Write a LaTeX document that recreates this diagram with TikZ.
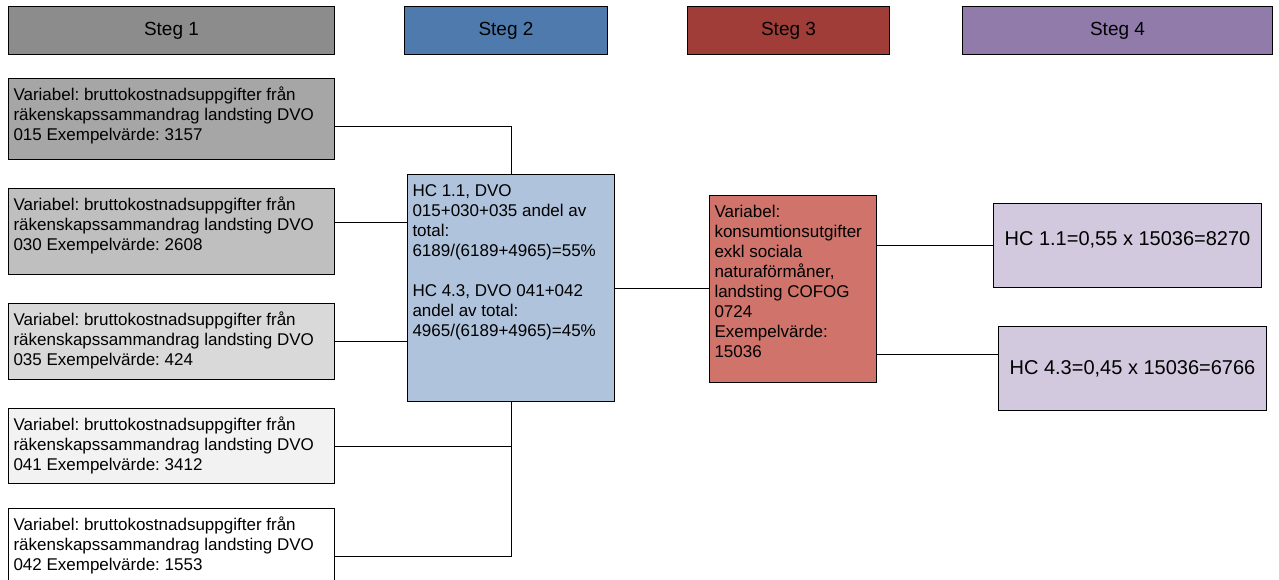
\documentclass[tikz,border=0pt]{standalone}
\usepackage{fontspec}
\setmainfont{Liberation Sans}
\frenchspacing

\definecolor{headA}{HTML}{8C8C8C}
\definecolor{headB}{HTML}{4E7AAE}
\definecolor{headC}{HTML}{A03D38}
\definecolor{headD}{HTML}{917BAA}
\definecolor{grayA}{HTML}{A6A6A6}
\definecolor{grayB}{HTML}{BFBFBF}
\definecolor{grayC}{HTML}{D9D9D9}
\definecolor{grayD}{HTML}{F2F2F2}
\definecolor{calcfill}{HTML}{B0C3DC}
\definecolor{redfill}{HTML}{CF736B}
\definecolor{hcfill}{HTML}{D3C9DF}

\tikzset{
	head/.style={draw, line width=1pt, anchor=north west, minimum height=48pt, inner sep=0pt, font=\fontsize{19}{23}\selectfont},
	cell/.style={draw, line width=1pt, anchor=north west, inner xsep=5pt, inner ysep=0pt, font=\fontsize{17}{20}\selectfont},
	link/.style={line width=0.8pt}
}
\newcommand{\celltxt}[3]{\parbox[c][#2][t]{#1}{\raggedright\frenchspacing\rule{0pt}{22pt}#3}}

\begin{document}
\begin{tikzpicture}[x=1pt,y=-1pt]
	\useasboundingbox (0,0) rectangle (1279,579);

	% Headers
	\node[head, fill=headA, minimum width=326pt] (h1) at (8,6) {Steg 1};
	\node[head, fill=headB, minimum width=203pt] (h2) at (404,6) {Steg 2};
	\node[head, fill=headC, minimum width=202pt] (h3) at (687,6) {Steg 3};
	\node[head, fill=headD, minimum width=310pt] (h4) at (962,6) {Steg 4};

	% Step 1: source variables
	\node[cell, fill=grayA] (v1) at (8,78) {\celltxt{316pt}{81pt}{Variabel: bruttokostnadsuppgifter från\\räkenskapssammandrag landsting DVO\\015 Exempelvärde: 3157}};
	\node[cell, fill=grayB] (v2) at (8,188) {\celltxt{316pt}{86pt}{Variabel: bruttokostnadsuppgifter från\\räkenskapssammandrag landsting DVO\\030 Exempelvärde: 2608}};
	\node[cell, fill=grayC] (v3) at (8,303) {\celltxt{316pt}{76pt}{Variabel: bruttokostnadsuppgifter från\\räkenskapssammandrag landsting DVO\\035 Exempelvärde: 424}};
	\node[cell, fill=grayD] (v4) at (8,408) {\celltxt{316pt}{75pt}{Variabel: bruttokostnadsuppgifter från\\räkenskapssammandrag landsting DVO\\041 Exempelvärde: 3412}};
	\node[cell, fill=white] (v5) at (8,508) {\celltxt{316pt}{96pt}{Variabel: bruttokostnadsuppgifter från\\räkenskapssammandrag landsting DVO\\042 Exempelvärde: 1553}};

	% Step 2: shares
	\node[cell, fill=calcfill] (calc) at (407,174) {\celltxt{197pt}{227pt}{HC 1.1, DVO\\015+030+035 andel av\\total:\\6189/(6189+4965)=55\%\\[20pt]HC 4.3, DVO 041+042\\andel av total:\\4965/(6189+4965)=45\%}};

	% Step 3: total
	\node[cell, fill=redfill] (red) at (709,195) {\celltxt{157pt}{187pt}{Variabel:\\konsumtionsutgifter\\exkl sociala\\naturaförmåner,\\landsting COFOG\\0724\\Exempelvärde:\\15036}};

	% Step 4: results
	\node[cell, fill=hcfill, minimum width=268pt, minimum height=84pt, font=\fontsize{20}{24}\selectfont, text height=14pt, text depth=14pt] (hc1) at (993,203) {HC 1.1=0,55 x 15036=8270};
	\node[cell, fill=hcfill, minimum width=268pt, minimum height=84pt, font=\fontsize{20}{24}\selectfont] (hc2) at (998,326) {HC 4.3=0,45 x 15036=6766};

	% Connectors
	\draw[link] ([yshift=-7.5pt]v1.east) -| (calc.north);
	\draw[link] ([yshift=9pt]v2.east) coordinate (a2) -- (a2 -| calc.west);
	\draw[link] (v3.east) -- (v3.east -| calc.west);
	\draw[link] (v4.east) -| (calc.south);
	\draw[link] (v5.east) -| (calc.south);
	\draw[link] (calc.east) -- (calc.east -| red.west);
	\draw[link] (hc1.west -| red.east) -- (hc1.west);
	\draw[link] ([yshift=-65.5pt]red.east) coordinate (b2) -- (b2 -| hc2.west);

\end{tikzpicture}
\end{document}
